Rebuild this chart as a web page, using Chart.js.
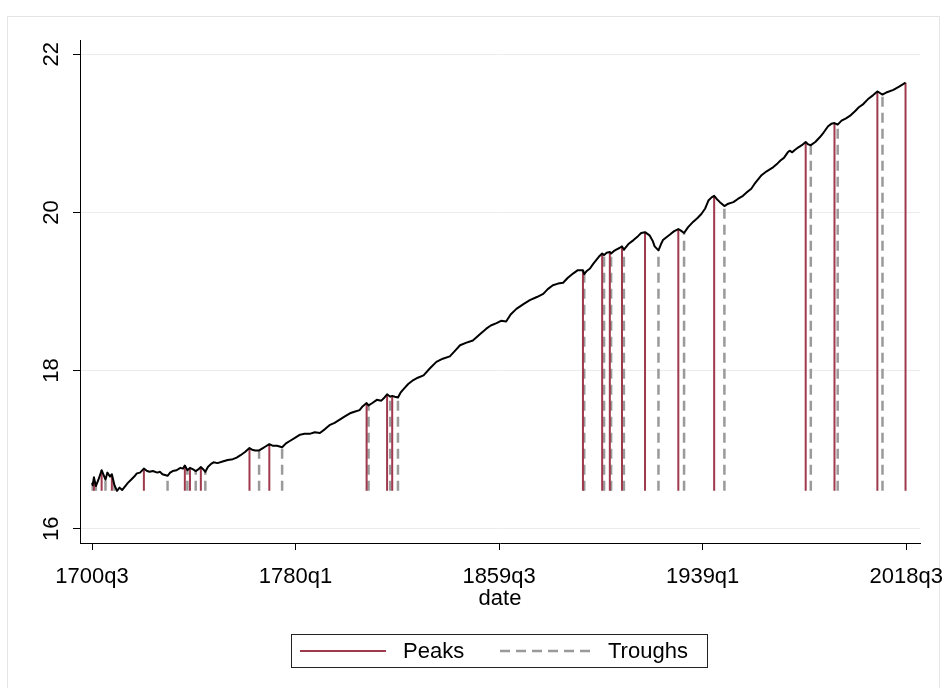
<!DOCTYPE html>
<html>
<head>
<meta charset="utf-8">
<script src="https://cdn.jsdelivr.net/npm/chart.js@4.4.1/dist/chart.umd.min.js"></script>
<style>
  html, body { margin: 0; padding: 0; background: #fff; }
  #wrap { width: 946px; height: 688px; }
</style>
</head>
<body>
<div id="wrap"><canvas id="myChart" width="946" height="688"></canvas></div>
<script>
// quarterly dates and values
const dates = [
  "1700q3", "1700q4", "1701q2", "1702q1", "1703q1", "1704q2", "1705q1", "1705q4", "1706q3", "1707q3",
  "1708q2", "1709q2", "1710q2", "1711q2", "1712q2", "1713q2", "1714q3", "1715q4", "1717q1", "1718q1",
  "1719q2", "1720q4", "1722q1", "1723q1", "1724q2", "1726q1", "1727q1", "1728q1", "1730q1", "1731q1",
  "1732q1", "1733q3", "1735q1", "1736q1", "1736q4", "1737q4", "1738q4", "1740q1", "1741q1", "1742q1",
  "1743q1", "1744q1", "1744q4", "1745q4", "1747q1", "1748q1", "1749q3", "1751q3", "1753q3", "1755q3",
  "1757q1", "1758q3", "1760q2", "1762q1", "1763q1", "1764q2", "1765q4", "1767q2", "1768q2", "1769q4",
  "1771q1", "1772q4", "1774q4", "1776q2", "1777q4", "1779q4", "1781q4", "1783q3", "1785q3", "1787q3",
  "1789q3", "1791q3", "1793q2", "1795q2", "1797q2", "1799q2", "1801q2", "1803q1", "1805q1", "1806q2",
  "1807q4", "1808q3", "1810q1", "1811q4", "1813q3", "1814q4", "1815q4", "1817q1", "1817q4", "1818q4",
  "1820q1", "1821q1", "1822q1", "1824q1", "1826q1", "1827q4", "1830q1", "1832q3", "1835q1", "1837q3",
  "1840q2", "1842q2", "1844q2", "1846q3", "1849q2", "1852q1", "1854q3", "1856q2", "1858q3", "1860q2",
  "1862q2", "1864q1", "1866q2", "1869q1", "1871q3", "1874q2", "1876q4", "1878q3", "1880q3", "1882q3",
  "1884q3", "1886q2", "1888q3", "1890q2", "1892q2", "1892q4", "1893q4", "1895q1", "1896q2", "1897q3",
  "1898q4", "1899q4", "1900q3", "1901q3", "1902q4", "1903q2", "1904q2", "1905q2", "1906q3", "1907q3",
  "1908q2", "1910q1", "1912q1", "1913q4", "1915q1", "1916q3", "1918q2", "1919q3", "1920q2", "1921q4",
  "1922q4", "1923q3", "1925q1", "1926q2", "1927q4", "1929q3", "1930q3", "1931q4", "1933q2", "1935q2",
  "1937q1", "1938q3", "1940q1", "1941q2", "1942q3", "1943q3", "1944q3", "1945q4", "1947q3", "1949q1",
  "1951q1", "1952q4", "1954q4", "1956q3", "1958q1", "1959q2", "1960q4", "1962q1", "1964q1", "1966q3",
  "1968q2", "1969q3", "1970q4", "1972q2", "1973q1", "1974q1", "1975q1", "1976q2", "1977q4", "1979q2",
  "1980q2", "1981q2", "1983q1", "1984q4", "1986q2", "1988q1", "1989q2", "1990q3", "1991q4", "1993q2",
  "1995q1", "1996q3", "1998q3", "2000q1", "2001q4", "2003q3", "2005q3", "2007q2", "2008q2", "2009q2",
  "2011q1", "2013q3", "2015q4", "2018q2"
];
const values = [
  16.58, 16.55, 16.65, 16.54, 16.62, 16.74, 16.68, 16.62, 16.71, 16.66,
  16.69, 16.55, 16.48, 16.52, 16.49, 16.53, 16.58, 16.62, 16.66, 16.70,
  16.71, 16.76, 16.73, 16.72, 16.73, 16.71, 16.72, 16.69, 16.67, 16.71,
  16.73, 16.74, 16.77, 16.76, 16.80, 16.74, 16.77, 16.75, 16.73, 16.75,
  16.78, 16.75, 16.72, 16.78, 16.82, 16.84, 16.83, 16.85, 16.87, 16.88,
  16.90, 16.93, 16.97, 17.02, 17.00, 16.99, 16.99, 17.02, 17.04, 17.07,
  17.05, 17.05, 17.03, 17.08, 17.11, 17.15, 17.19, 17.20, 17.20, 17.22,
  17.21, 17.26, 17.31, 17.34, 17.38, 17.42, 17.46, 17.48, 17.50, 17.55,
  17.59, 17.56, 17.59, 17.63, 17.62, 17.66, 17.70, 17.67, 17.68, 17.67,
  17.66, 17.72, 17.76, 17.83, 17.88, 17.91, 17.94, 18.03, 18.11, 18.15,
  18.18, 18.25, 18.32, 18.35, 18.38, 18.46, 18.53, 18.57, 18.60, 18.63,
  18.62, 18.71, 18.78, 18.84, 18.89, 18.93, 18.97, 19.03, 19.08, 19.10,
  19.11, 19.17, 19.23, 19.27, 19.27, 19.22, 19.26, 19.29, 19.35, 19.40,
  19.45, 19.48, 19.46, 19.49, 19.50, 19.48, 19.51, 19.53, 19.55, 19.57,
  19.53, 19.60, 19.65, 19.70, 19.74, 19.75, 19.71, 19.64, 19.57, 19.52,
  19.60, 19.65, 19.69, 19.72, 19.76, 19.79, 19.77, 19.74, 19.81, 19.88,
  19.93, 19.98, 20.05, 20.15, 20.19, 20.21, 20.17, 20.13, 20.08, 20.11,
  20.13, 20.17, 20.21, 20.26, 20.30, 20.36, 20.42, 20.47, 20.52, 20.57,
  20.62, 20.66, 20.69, 20.76, 20.78, 20.76, 20.79, 20.82, 20.85, 20.89,
  20.86, 20.85, 20.89, 20.95, 21.01, 21.09, 21.12, 21.13, 21.11, 21.16,
  21.19, 21.22, 21.28, 21.33, 21.37, 21.43, 21.48, 21.53, 21.51, 21.49,
  21.52, 21.55, 21.59, 21.64
];
const peakDates = [
  "1701q2", "1704q2", "1708q2", "1720q4", "1736q4", "1738q4", "1743q1", "1762q1", "1769q4", "1807q4",
  "1815q4", "1817q4", "1892q2", "1899q4", "1902q4", "1907q3", "1916q3", "1929q3", "1943q3", "1979q2",
  "1990q3", "2007q2", "2018q2"
];
const troughDates = [
  "1700q4", "1702q1", "1705q4", "1709q2", "1730q1", "1737q4", "1741q1", "1744q4", "1765q4", "1774q4",
  "1808q3", "1817q1", "1820q1", "1892q4", "1900q3", "1903q2", "1908q2", "1921q4", "1931q4", "1947q3",
  "1981q2", "1991q4", "2009q2"
];
const xTickLabels = ["1700q3", "1780q1", "1859q3", "1939q1", "2018q3"];
const yTicks = [16, 18, 20, 22];

const FONT = "'Liberation Sans', Arial, Helvetica, sans-serif";
const PEAK_COLOR = "#9e3a4c";
const TROUGH_COLOR = "#9a9a9a";
const DASH = [10, 6];

function parseQ(s) {
  const parts = s.split("q");
  return +parts[0] + (parts[1] - 1) / 4;
}
function toQ(v) {
  const y = Math.floor(v + 1e-6);
  return y + "q" + (Math.round((v - y) * 4) + 1);
}

const base = Math.min(...values);
const series = dates.map((d, i) => ({ x: parseQ(d), y: values[i] }));

function spikes(list) {
  const pts = [];
  list.forEach(d => {
    const x = parseQ(d);
    pts.push({ x: x, y: base }, { x: x, y: values[dates.indexOf(d)] }, { x: x, y: null });
  });
  return pts;
}

// graph region frame (under everything) + stata-like legend
const decor = {
  id: "decor",
  beforeDraw(chart) {
    const c = chart.ctx;
    c.save();
    c.strokeStyle = "#e4e4e4";
    c.lineWidth = 1;
    c.strokeRect(7.5, 16.5, 932, 700);
    c.restore();
  },
  afterDraw(chart) {
    const c = chart.ctx;
    c.save();
    c.lineWidth = 1;
    c.strokeStyle = "#222";
    c.strokeRect(291.5, 634.5, 416, 33);

    const ly = 651;
    c.lineWidth = 2;
    c.strokeStyle = PEAK_COLOR;
    c.beginPath(); c.moveTo(300, ly); c.lineTo(386, ly); c.stroke();
    c.lineWidth = 2.5;
    c.strokeStyle = TROUGH_COLOR;
    c.setLineDash(DASH);
    c.beginPath(); c.moveTo(500, ly); c.lineTo(594, ly); c.stroke();
    c.setLineDash([]);

    c.fillStyle = "#000";
    c.font = "22px " + FONT;
    c.textBaseline = "middle";
    c.textAlign = "left";
    c.fillText("Peaks", 403, ly + 1);
    c.fillText("Troughs", 608, ly + 1);
    c.restore();
  }
};

let ctx = document.getElementById("myChart").getContext("2d");
let chart = new Chart(ctx, {
  type: "line",
  data: {
    datasets: [
      {
        label: "series",
        data: series,
        borderColor: "#000",
        borderWidth: 2,
        borderJoinStyle: "round",
        pointRadius: 0,
        tension: 0,
      },
      {
        label: "Peaks",
        data: spikes(peakDates),
        borderColor: PEAK_COLOR,
        borderWidth: 2,
        pointRadius: 0,
        spanGaps: false,
      },
      {
        label: "Troughs",
        data: spikes(troughDates),
        borderColor: TROUGH_COLOR,
        borderWidth: 2.5,
        borderDash: DASH,
        pointRadius: 0,
        spanGaps: false,
      }
    ],
  },
  options: {
    responsive: false,
    animation: false,
    devicePixelRatio: 1,
    layout: { padding: { top: 40, right: 26, bottom: 0, left: 0 } },
    plugins: { legend: { display: false }, tooltip: { enabled: false } },
    scales: {
      x: {
        type: "linear",
        min: 1695.8,
        max: 2023.9,
        afterBuildTicks: s => { s.ticks = xTickLabels.map(l => ({ value: parseQ(l) })); },
        afterFit: s => { s.height = 145; s.paddingLeft = 0; s.paddingRight = 0; },
        ticks: {
          autoSkip: false,
          maxRotation: 0,
          padding: 14,
          color: "#000",
          font: { family: FONT, size: 22 },
          callback: v => toQ(v),
        },
        grid: { drawOnChartArea: false, drawTicks: true, tickLength: 7, tickColor: "#000" },
        border: { display: true, color: "#000", width: 1 },
        title: {
          display: true,
          text: "date",
          color: "#000",
          font: { family: FONT, size: 22 },
          padding: { top: 0, bottom: 76 },
        },
      },
      y: {
        min: 15.82,
        max: 22.18,
        afterBuildTicks: s => { s.ticks = yTicks.map(v => ({ value: v })); },
        afterFit: s => { s.width = 80; s.paddingTop = 0; s.paddingBottom = 0; },
        ticks: {
          minRotation: 90,
          maxRotation: 90,
          crossAlign: "center",
          padding: 9,
          color: "#000",
          font: { family: FONT, size: 22 },
        },
        grid: { color: "#ececec", lineWidth: 1, tickLength: 7, tickColor: "#000" },
        border: { display: true, color: "#000", width: 1 },
      }
    }
  },
  plugins: [decor],
});
</script>
</body>
</html>
